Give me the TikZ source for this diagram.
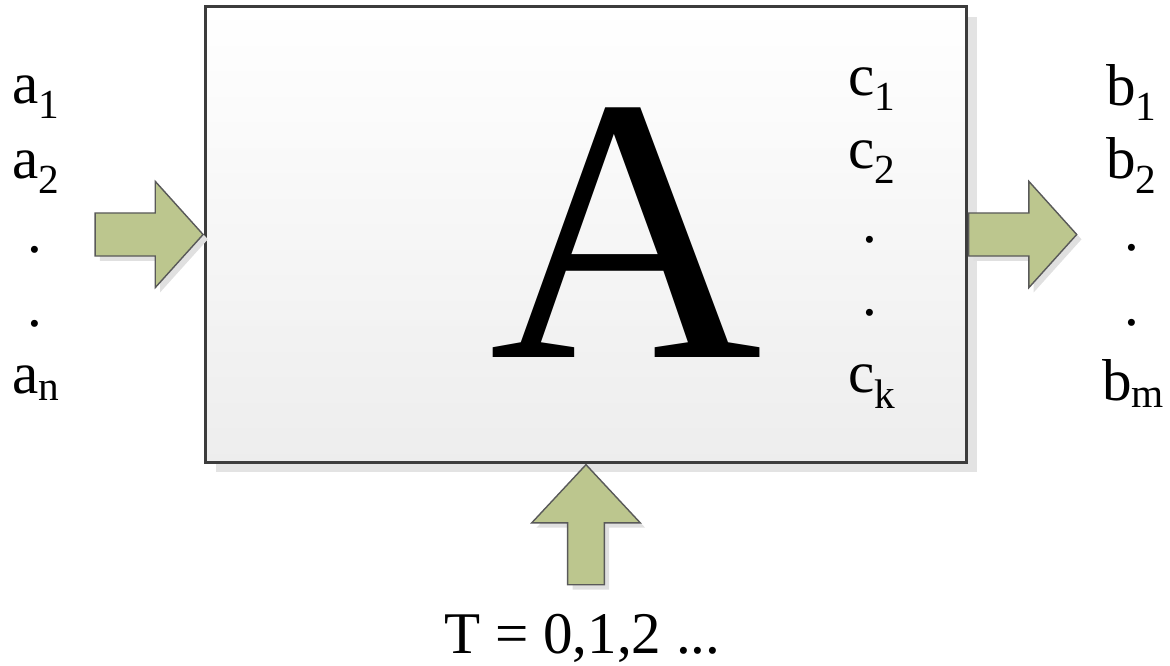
\documentclass[tikz,border=0pt]{standalone}
\usepackage{fontspec}
\setmainfont{Liberation Serif}
\usetikzlibrary{positioning, shapes.arrows, shadows}

\definecolor{arrowgreen}{HTML}{BCC68E}
\definecolor{boxline}{HTML}{3C3C3C}

\begin{document}
\begin{tikzpicture}[
    x=0.025cm, y=-0.025cm,
    every node/.style={font=\fontsize{42}{42}\selectfont, inner sep=0pt},
    system/.style={
        rectangle,
        draw=boxline,
        line width=2.1pt,
        top color=white,
        bottom color=black!7,
        minimum width=19.02cm,
        minimum height=11.38cm,
        drop shadow={shadow xshift=0.25cm, shadow yshift=-0.25cm, fill=black!11, opacity=1}
    },
    blockarrow/.style={
        single arrow,
        draw=black!65,
        line width=1pt,
        fill=arrowgreen,
        inner sep=0pt,
        drop shadow={shadow xshift=0.12cm, shadow yshift=-0.12cm, fill=black!12, opacity=1}
    },
    flowarrow/.style={
        blockarrow,
        minimum height=2.7cm,
        inner ysep=0.52cm,
        single arrow head extend=0.79cm,
        single arrow tip angle=96
    },
    clockarrow/.style={
        blockarrow,
        minimum height=3cm,
        inner ysep=0.44cm,
        single arrow head extend=0.9cm,
        single arrow tip angle=86
    },
    sig/.style={anchor=base west},
    gap/.style={anchor=base}
]
\useasboundingbox (0,0) rectangle (1170,665);

% the system block
\node[system] (sys) at (586,234.5) {};
\node[anchor=base, font=\fontsize{269}{269}\selectfont] (name) at (626,357) {A};

% inputs, outputs and clock
\node[flowarrow, anchor=tip] (in) at (sys.west) {};
\node[flowarrow, anchor=tail] (out) at (sys.east) {};
\node[clockarrow, rotate=90, anchor=tip] (clk) at (sys.south) {};

% input signals
\node[sig] (a1) at (12,103) {a\textsubscript{1}};
\node[sig] (a2) at (12,178) {a\textsubscript{2}};
\node[gap] (adot1) at (35,252) {.};
\node[gap] (adot2) at (35,326) {.};
\node[sig] (an) at (12,393) {a\textsubscript{n}};

% internal states
\node[sig] (c1) at (848,95) {c\textsubscript{1}};
\node[sig] (c2) at (848,168) {c\textsubscript{2}};
\node[gap] (cdot1) at (870,242) {.};
\node[gap] (cdot2) at (870,315) {.};
\node[sig] (ck) at (848,392) {c\textsubscript{k}};

% output signals
\node[sig] (b1) at (1106,105) {b\textsubscript{1}};
\node[sig] (b2) at (1106,178) {b\textsubscript{2}};
\node[gap] (bdot1) at (1132,250) {.};
\node[gap] (bdot2) at (1132,325) {.};
\node[sig] (bm) at (1102,400) {b\textsubscript{m}};

\node[sig] (time) at (444,653) {T = 0,1,2 ...};

\end{tikzpicture}
\end{document}
